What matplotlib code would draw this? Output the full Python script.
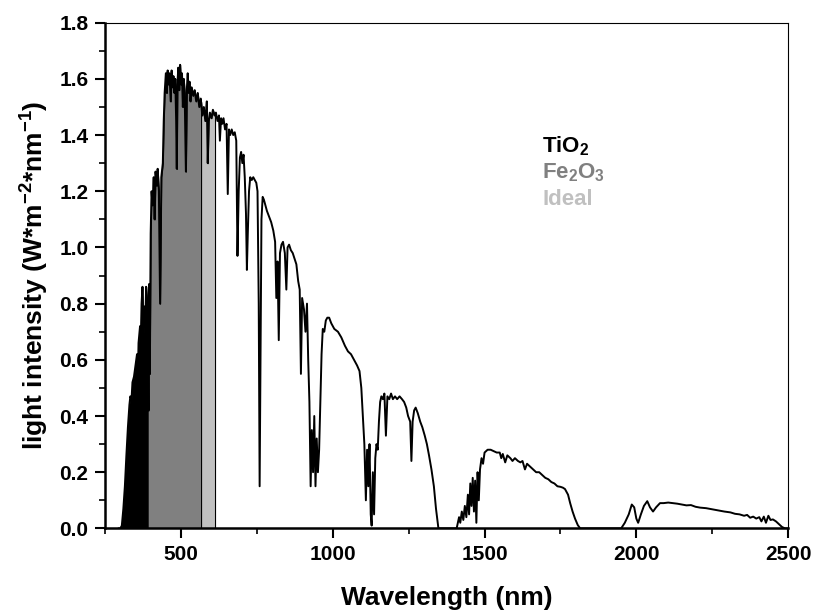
import matplotlib
matplotlib.use("Agg")
import matplotlib.pyplot as plt
from matplotlib.ticker import MultipleLocator
import numpy as np

plt.rcParams['font.family'] = ['Liberation Sans', 'DejaVu Sans']
plt.rcParams['font.weight'] = 'bold'
plt.rcParams['mathtext.fontset'] = 'custom'
plt.rcParams['mathtext.rm'] = 'Liberation Sans:bold'
plt.rcParams['mathtext.bf'] = 'Liberation Sans:bold'
plt.rcParams['mathtext.default'] = 'bf'

# solar spectrum (nm, W m^-2 nm^-1)
wavelength = [
    295, 300, 305, 310, 315, 320, 325, 330, 333, 337, 340, 345, 350, 355, 358, 360,
    365, 368, 370, 373, 376, 380, 383, 385, 389, 393, 395, 397, 400, 403, 406, 410,
    413, 416, 420, 423, 427, 431, 435, 440, 443, 446, 450, 453, 456, 459, 462, 466,
    469, 472, 475, 478, 481, 484, 486, 488, 491, 494, 497, 500, 503, 506, 509, 512,
    516, 519, 522, 525, 528, 531, 535, 540, 545, 550, 555, 560, 565, 570, 575, 580,
    585, 588, 591, 595, 600, 605, 610, 615, 620, 625, 628, 632, 636, 640, 645, 650,
    654, 658, 662, 667, 672, 677, 682, 686, 690, 694, 698, 702, 706, 710, 714, 717,
    720, 724, 728, 733, 738, 743, 748, 752, 756, 759, 762, 765, 769, 773, 778, 783,
    790, 797, 804, 810, 814, 818, 822, 826, 831, 836, 842, 847, 851, 856, 862, 868,
    874, 880, 886, 891, 895, 899, 905, 910, 915, 919, 923, 927, 931, 935, 939, 943,
    947, 951, 955, 959, 963, 967, 972, 977, 982, 988, 995, 1005, 1017, 1028, 1040, 1050,
    1060, 1070, 1080, 1088, 1094, 1099, 1104, 1109, 1113, 1117, 1121, 1125, 1128, 1132,
    1136, 1140, 1144, 1148, 1152, 1156, 1160, 1165, 1170, 1175, 1180, 1186, 1192, 1198,
    1205, 1212, 1220, 1228, 1235, 1242, 1248, 1255, 1259, 1263, 1268, 1273, 1280, 1288,
    1295, 1303, 1310, 1317, 1325, 1333, 1340, 1348, 1360, 1380, 1400, 1408, 1412, 1416,
    1420, 1425, 1430, 1435, 1440, 1445, 1449, 1453, 1457, 1461, 1465, 1469, 1473, 1477,
    1481, 1485, 1490, 1495, 1500, 1510, 1520, 1530, 1540, 1550, 1555, 1560, 1568, 1575,
    1585, 1592, 1600, 1610, 1618, 1625, 1633, 1640, 1650, 1660, 1670, 1680, 1690, 1700,
    1710, 1720, 1730, 1740, 1750, 1758, 1765, 1775, 1782, 1790, 1798, 1807, 1815, 1850,
    1900, 1950, 1962, 1975, 1985, 1993, 2000, 2006, 2015, 2025, 2036, 2045, 2055, 2065,
    2078, 2090, 2105, 2120, 2135, 2150, 2165, 2180, 2195, 2210, 2230, 2250, 2270, 2290,
    2310, 2325, 2340, 2355, 2365, 2375, 2385, 2395, 2405, 2412, 2420, 2427, 2435, 2442,
    2450, 2460, 2470, 2480, 2490, 2500,
]
intensity = [
    0.0, 0.0, 0.01, 0.07, 0.15, 0.26, 0.36, 0.44, 0.47, 0.46, 0.52, 0.54, 0.58, 0.62, 0.55, 0.66,
    0.72, 0.70, 0.80, 0.86, 0.68, 0.79, 0.76, 0.86, 0.80, 0.42, 0.87, 0.55, 1.05, 1.20, 1.15, 1.25,
    1.10, 1.27, 1.22, 1.28, 1.20, 0.80, 1.25, 1.30, 1.45, 1.55, 1.62, 1.55, 1.63, 1.58, 1.62, 1.52,
    1.63, 1.57, 1.61, 1.55, 1.60, 1.45, 1.28, 1.58, 1.64, 1.56, 1.65, 1.58, 1.62, 1.50, 1.60, 1.55,
    1.27, 1.56, 1.62, 1.55, 1.59, 1.52, 1.57, 1.54, 1.56, 1.52, 1.55, 1.50, 1.53, 1.47, 1.50, 1.45,
    1.52, 1.30, 1.45, 1.48, 1.46, 1.49, 1.47, 1.48, 1.45, 1.47, 1.38, 1.46, 1.44, 1.46, 1.42, 1.44,
    1.19, 1.42, 1.40, 1.42, 1.40, 1.41, 1.38, 0.97, 1.20, 1.32, 1.34, 1.30, 1.33, 1.25, 1.12, 0.92,
    1.05, 1.20, 1.25, 1.24, 1.25, 1.24, 1.23, 1.20, 0.80, 0.15, 0.60, 1.10, 1.18, 1.17, 1.15, 1.13,
    1.11, 1.09, 1.06, 1.02, 0.82, 0.95, 0.67, 0.98, 1.01, 1.02, 0.98, 0.85, 1.00, 1.01, 0.99, 0.98,
    0.96, 0.94, 0.88, 0.85, 0.55, 0.82, 0.78, 0.70, 0.80, 0.60, 0.45, 0.15, 0.35, 0.20, 0.40, 0.15,
    0.32, 0.20, 0.28, 0.45, 0.62, 0.71, 0.70, 0.74, 0.75, 0.75, 0.73, 0.71, 0.70, 0.68, 0.65, 0.63,
    0.62, 0.60, 0.58, 0.56, 0.50, 0.40, 0.30, 0.10, 0.28, 0.15, 0.30, 0.05, 0.01, 0.20,
    0.05, 0.25, 0.30, 0.28, 0.38, 0.45, 0.47, 0.46, 0.48, 0.33, 0.47, 0.46, 0.48, 0.46,
    0.47, 0.46, 0.47, 0.46, 0.45, 0.43, 0.40, 0.38, 0.24, 0.38, 0.42, 0.43, 0.41, 0.38,
    0.36, 0.33, 0.30, 0.26, 0.21, 0.15, 0.07, 0.0, 0.0, 0.0, 0.0, 0.0, 0.02, 0.04,
    0.02, 0.06, 0.03, 0.08, 0.04, 0.12, 0.05, 0.16, 0.08, 0.18, 0.06, 0.17, 0.02, 0.20,
    0.10, 0.21, 0.25, 0.23, 0.27, 0.28, 0.28, 0.275, 0.27, 0.27, 0.25, 0.265, 0.235, 0.26,
    0.25, 0.24, 0.25, 0.24, 0.235, 0.24, 0.21, 0.23, 0.22, 0.21, 0.20, 0.20, 0.19, 0.18,
    0.175, 0.165, 0.16, 0.15, 0.148, 0.145, 0.14, 0.12, 0.09, 0.06, 0.035, 0.012, 0.0, 0.0,
    0.0, 0.0, 0.02, 0.05, 0.085, 0.075, 0.035, 0.02, 0.05, 0.08, 0.097, 0.075, 0.06, 0.075,
    0.09, 0.09, 0.092, 0.09, 0.088, 0.085, 0.082, 0.083, 0.077, 0.074, 0.072, 0.068, 0.064, 0.06,
    0.057, 0.052, 0.05, 0.045, 0.048, 0.038, 0.042, 0.035, 0.04, 0.025, 0.042, 0.02, 0.045, 0.03,
    0.032, 0.025, 0.015, 0.005, 0.0, 0.0,
]

# absorption edges (nm) and fill colours
band_names = ['TiO$_2$', 'Fe$_2$O$_3$', 'Ideal']
band_edges = [(300, 390), (390, 566), (566, 612)]
band_colors = ['black', '#808080', '#c0c0c0']

wl = np.array(wavelength)
I = np.array(intensity)

fig = plt.figure(figsize=(8.15, 6.13), dpi=100)
ax = fig.add_axes([0.129, 0.138, 0.838, 0.825])

for (lo, hi), c in zip(band_edges, band_colors):
    m = (wl > lo) & (wl < hi)
    xs = np.concatenate([[lo], wl[m], [hi]])
    ys = np.concatenate([[np.interp(lo, wl, I)], I[m], [np.interp(hi, wl, I)]])
    ax.fill_between(xs, 0, ys, facecolor=c, edgecolor='black', linewidth=0.8)

ax.plot(wl, I, color='black', linewidth=1.4)

ax.set_xlim(250, 2500)
ax.set_ylim(0, 1.8)
ax.xaxis.set_major_locator(MultipleLocator(500))
ax.xaxis.set_minor_locator(MultipleLocator(250))
ax.yaxis.set_major_locator(MultipleLocator(0.2))
ax.yaxis.set_minor_locator(MultipleLocator(0.1))
ax.yaxis.set_major_formatter(plt.FuncFormatter(lambda v, p: f"{v:.1f}"))
ax.tick_params(which='major', direction='out', length=7, width=1.5, labelsize=15, pad=5)
ax.tick_params(which='minor', direction='out', length=4, width=1.2)

for s in ['left', 'bottom']:
    ax.spines[s].set_linewidth(1.8)
for s in ['top', 'right']:
    ax.spines[s].set_linewidth(0.8)

ax.set_xlabel("Wavelength (nm)", fontsize=19, fontweight='bold', labelpad=16)
ax.set_ylabel("light intensity (W*m$^{-2}$*nm$^{-1}$)", fontsize=19, fontweight='bold', labelpad=6)

for i, (name, c) in enumerate(zip(band_names, band_colors)):
    ax.text(1690, 1.36 - i * 0.095, name, color=c, fontsize=16, fontweight='bold',
            va='center', ha='left')

fig.savefig("out.png", dpi=100)
